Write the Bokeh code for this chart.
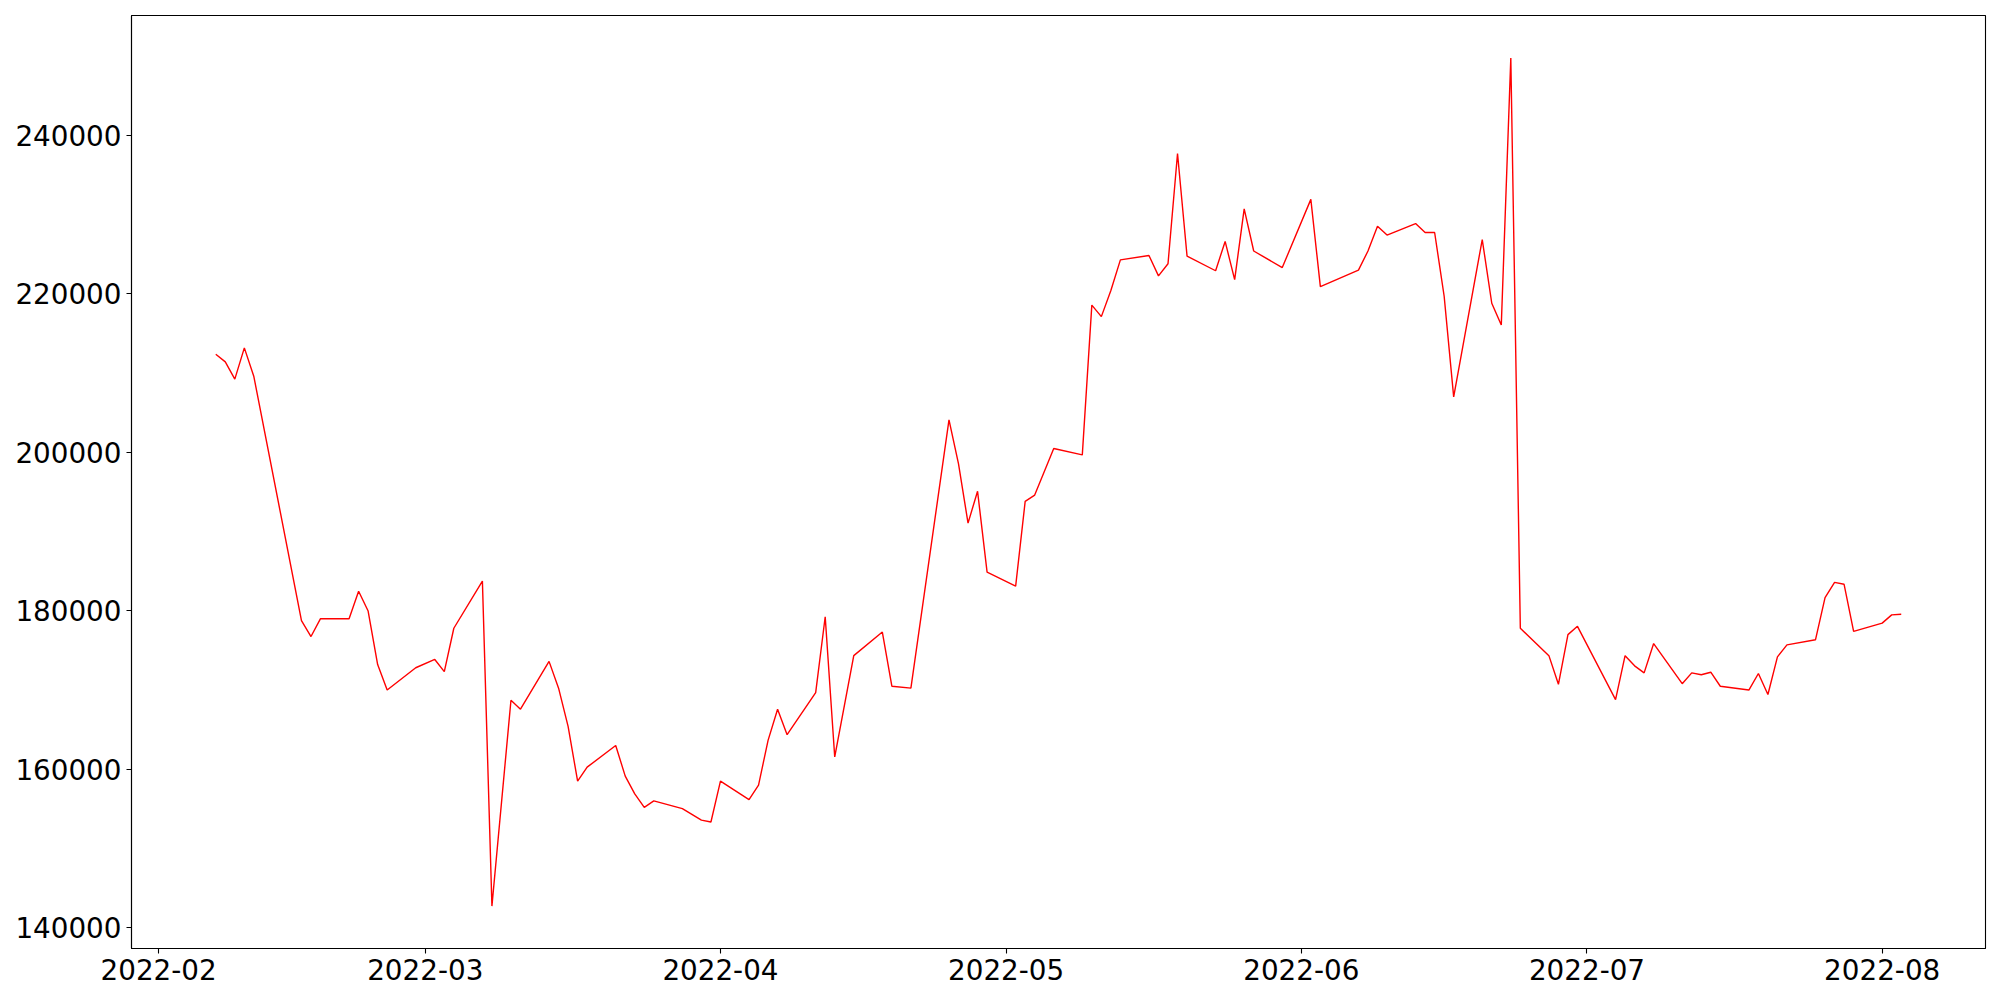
from datetime import datetime
from bokeh.plotting import figure
from bokeh.models import Range1d, FixedTicker, DatetimeTickFormatter, NumeralTickFormatter
from bokeh.embed import file_html
from bokeh.resources import INLINE

# ---- data ----
date_labels = [
    "2022-02-07", "2022-02-08", "2022-02-09", "2022-02-10", "2022-02-11",
    "2022-02-16", "2022-02-17", "2022-02-18", "2022-02-21", "2022-02-22",
    "2022-02-23", "2022-02-24", "2022-02-25", "2022-02-28", "2022-03-02",
    "2022-03-03", "2022-03-04", "2022-03-07", "2022-03-08", "2022-03-10",
    "2022-03-11", "2022-03-14", "2022-03-15", "2022-03-16", "2022-03-17",
    "2022-03-18", "2022-03-21", "2022-03-22", "2022-03-23", "2022-03-24",
    "2022-03-25", "2022-03-28", "2022-03-29", "2022-03-30", "2022-03-31",
    "2022-04-01", "2022-04-04", "2022-04-05", "2022-04-06", "2022-04-07",
    "2022-04-08", "2022-04-11", "2022-04-12", "2022-04-13", "2022-04-15",
    "2022-04-18", "2022-04-19", "2022-04-21", "2022-04-25", "2022-04-26",
    "2022-04-27", "2022-04-28", "2022-04-29", "2022-05-02", "2022-05-03",
    "2022-05-04", "2022-05-06", "2022-05-09", "2022-05-10", "2022-05-11",
    "2022-05-12", "2022-05-13", "2022-05-16", "2022-05-17", "2022-05-18",
    "2022-05-19", "2022-05-20", "2022-05-23", "2022-05-24", "2022-05-25",
    "2022-05-26", "2022-05-27", "2022-05-30", "2022-06-02", "2022-06-03",
    "2022-06-07", "2022-06-08", "2022-06-09", "2022-06-10", "2022-06-13",
    "2022-06-14", "2022-06-15", "2022-06-16", "2022-06-17", "2022-06-20",
    "2022-06-21", "2022-06-22", "2022-06-23", "2022-06-24", "2022-06-27",
    "2022-06-28", "2022-06-29", "2022-06-30", "2022-07-04", "2022-07-05",
    "2022-07-06", "2022-07-07", "2022-07-08", "2022-07-11", "2022-07-12",
    "2022-07-13", "2022-07-14", "2022-07-15", "2022-07-18", "2022-07-19",
    "2022-07-20", "2022-07-21", "2022-07-22", "2022-07-25", "2022-07-26",
    "2022-07-27", "2022-07-28", "2022-07-29", "2022-08-01", "2022-08-02",
    "2022-08-03",
]

values = [
    212346, 211381, 209211, 213150, 209532,
    178742, 176733, 178983, 178983, 182440,
    179947, 173196, 169980, 172794, 173839,
    172311, 177778, 183727, 142728, 168694,
    167568, 173598, 170221, 165397, 158484,
    160253, 162986, 159128, 156877, 155188,
    155992, 155027, 154304, 153580, 153339,
    158484, 156153, 158001, 163630, 167568,
    164353, 169659, 179224, 161539, 174321,
    177295, 170462, 170221, 204066, 198519,
    191042, 195062, 184852, 183084, 193776,
    194580, 200448, 199644, 218536, 217089,
    220385, 224244, 224807, 222234, 223762,
    237669, 224726, 222877, 226575, 221751,
    230675, 225369, 223279, 231881, 220867,
    222957, 225369, 228504, 227379, 228826,
    227700, 227700, 219661, 206960, 226816,
    218777, 216044, 249727, 177778, 174321,
    170703, 176974, 178019, 168774, 174321,
    173035, 172150, 175848, 170784, 172150,
    171909, 172231, 170462, 169980, 172070,
    169417, 174160, 175688, 176331, 181637,
    183566, 183325, 177376, 178421, 179466,
    179546,
]

x_tick_labels = ["2022-02", "2022-03", "2022-04", "2022-05", "2022-06", "2022-07", "2022-08"]
y_ticks = [140000, 160000, 180000, 200000, 220000, 240000]

# ---- build ----
dates = [datetime.strptime(d, "%Y-%m-%d") for d in date_labels]
x_tick_dates = [datetime.strptime(t + "-01", "%Y-%m-%d") for t in x_tick_labels]
epoch = datetime(1970, 1, 1)
x_tick_ms = [(d - epoch).total_seconds() * 1000.0 for d in x_tick_dates]

span = max(dates) - min(dates)
x0 = min(dates) - span * 0.05
x1 = max(dates) + span * 0.05
vr = max(values) - min(values)
y0 = min(values) - 0.05 * vr
y1 = max(values) + 0.05 * vr

FONT = "DejaVu Sans"
FS = "27.8px"

p = figure(
    x_axis_type="datetime",
    frame_width=1854, frame_height=933,
    min_border_left=131, min_border_top=15, min_border_right=7, min_border_bottom=44,
    x_range=Range1d(x0, x1), y_range=Range1d(y0, y1),
    output_backend="svg", toolbar_location=None,
    background_fill_color="white", border_fill_color="white",
)

p.line(dates, values, line_color="#ff0000", line_width=1.4)

p.grid.visible = False
p.outline_line_color = "black"
p.outline_line_width = 1.1
p.outline_line_alpha = 1.0

p.xaxis.ticker = FixedTicker(ticks=x_tick_ms)
fmt = "%Y-%m"
p.xaxis.formatter = DatetimeTickFormatter(
    milliseconds=fmt, seconds=fmt, minsec=fmt, minutes=fmt, hourmin=fmt,
    hours=fmt, days=fmt, months=fmt, years=fmt,
)
p.yaxis.ticker = FixedTicker(ticks=y_ticks)
p.yaxis.formatter = NumeralTickFormatter(format="0")

for ax in (p.xaxis, p.yaxis):
    ax.axis_line_color = "black"
    ax.axis_line_width = 1.1
    ax.major_tick_line_color = "black"
    ax.major_tick_line_width = 1.1
    ax.major_tick_out = 5
    ax.major_tick_in = 0
    ax.minor_tick_line_color = None
    ax.major_label_text_font = FONT
    ax.major_label_text_font_size = FS
    ax.major_label_text_color = "black"
    ax.major_label_standoff = 5

open("out.html", "w").write(file_html(p, INLINE))
